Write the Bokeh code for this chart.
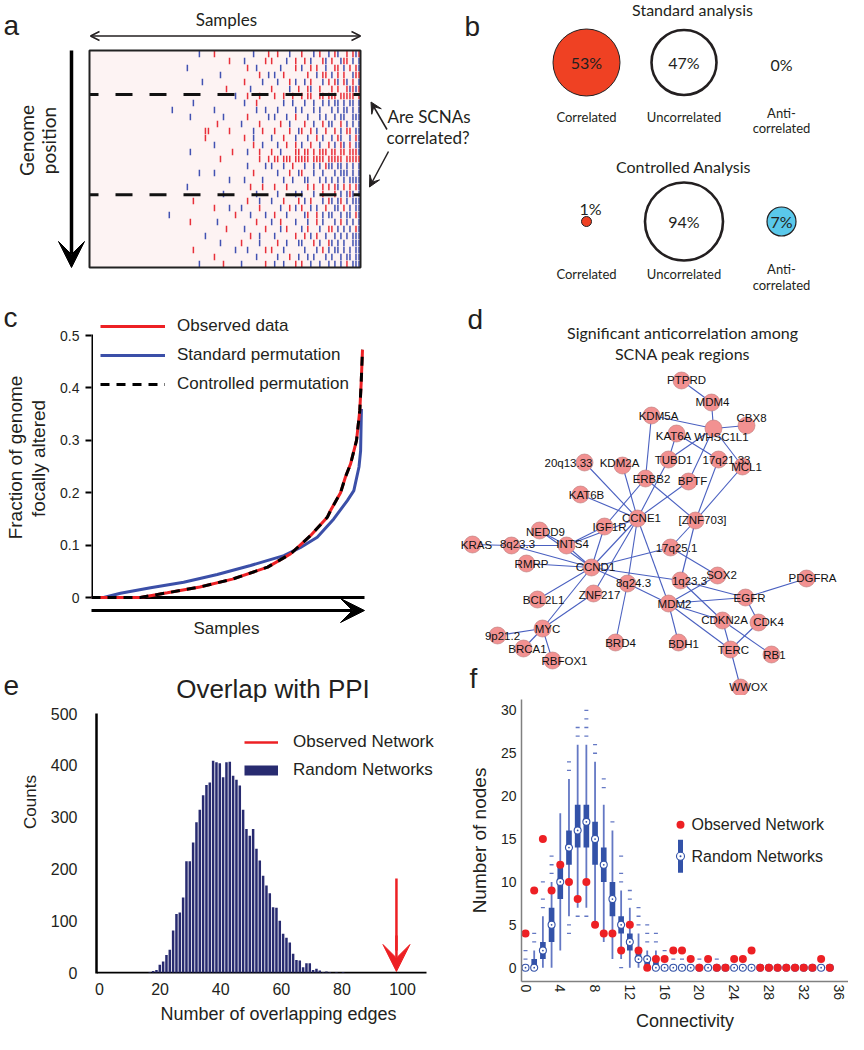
import math
import numpy as np
from bokeh.plotting import figure
from bokeh.layouts import row, column
from bokeh.models import (Range1d, LinearAxis, FixedTicker, Label, Arrow, VeeHead,
                          OpenHead, Legend, LegendItem, CustomJSTickFormatter)
from bokeh.core.properties import value
from bokeh.embed import file_html
from bokeh.resources import INLINE

HELV = "Liberation Sans"
MYR = "Lato"
INK = "#231f20"
RED = "#ed2024"
BLUE = "#3b4fa8"
NAVY = "#282b70"
BOXC = "#3352a8"
WHISK = "#6478c4"

# ---------------- data ----------------
# (a) SCNA heatmap: '.' none, 'r' amplification, 'b' deletion  (rows = genome position, cols = samples)
HEAT_ROWS = [
    ".......... .......... .......... ......b... .r........ ....b....r ..r...b... r...b.r..b .rb..r.rbr",
    ".......... .......... .......... .......... ......r... .b......r. r....b..r. .r.b...rb. r..brr.b.b",
    ".......... .......... .......... ..b....... .......... ..r..b.... ...b....r. b..r.r..b. .rr.b.r.rb",
    ".......... .......... .......... .......... ...b...... ......r..b .b..r..... ..r..b.rr. b.r.r..brr",
    ".......... .......... .......... .......b.. .......... .r.....b.. ..b...r.b. .b.r...b.r .rb.rb.r.b",
    ".......... .......... .......... .......... .....r.... ...b...... r.....b..r ..rb..r... r.r..rbrbr",
    ".......... .......... .......... .......... ........b. ..r...r... .r..r..r.. r.rr..rr.r rr.rrrrr.r",
    ".......... .......... .......... ....b..... .......... .b...r.... ....b..b.. .b..b..b.b .bb.b.bb.b",
    ".......... .......... .......b.. .......... .b........ .....b..b. ..b.....b. b...b.b... b.b.bb.b.b",
    ".......... .......... .......... ...b...... ....b..... ..r......b .b...b..r. ..b...b.b. .b.bb..bbb",
    ".......... .......... .......... .......... ..r....... b.....r... ...r..b... .r..b..r.b b..r.b.b.b",
    ".......... .......... .......... ........rr ......r... ....b..r.. .r....r..b r..r.b..r. .r.b.rr.bb",
    ".......... .......... .......... ........r. .......... .r..b..... b...r...b. ..b..r.b.. b.rb..b.rb",
    ".......... .......... .......... .......... .b........ ....r..b.. ..b..r..r. b..r..b..r .b.rb.r.bb",
    ".......... .......... .......... ...b...... .......r.. ..b...r... r..b....rr .rr.r.rrr. rr.rr.rrrb",
    ".......... .......... .......... .......... ...r...... ......r..r .rr.rrr.rr rrr.rrrr.r rrrr.rrrrr",
    ".......... .......... .......... .......... .......... ..b.....b. b...b..r.. .b..b.b.rb b.bb.b.b.b",
    ".......... .......... .......... ......b... .b........ ....r..... ..b...r..b r...b..b.. .b.bbb.b.b",
    ".......... .......... .......... .......... ......b... .b.....b.. ....b..b.. .bb...b.b. b.b.b.bbbb",
    ".......... .......... .......... ..b....... .......... ...r...r.. .r...r.... ..r.r..r.r .rb.r.r.rb",
    ".......... .......... .......... .......... ....b..... .....b.... ..b.....b. b...b..r.. .r.b.brb.b",
    ".......... .......... .......... ....r..... .......... ..r...b... b...r....r .b.r...b.r b.br.b.bbb",
    ".......... .......... .......... .......... .r....b... b.....r... ...b..r.b. r..b.b..r. .bb.r.b.bb",
    ".......... .......... ......b... .......... ........r. ...b....b. .r...b.... .br..r.b.b b..b.bb.rb",
    ".......... .......... .......... ...r...... ..b....... .....r.... b..r....b. ..b..r.b.. .b.r.b.b.b",
    ".......... .......... .......... .......... .....r.... .b......r. ...b.r.... b.r...b..r r.b.b.b.rb",
    ".......... .......... .......... ........b. .......... ...r..b... .b......r. .r.b.r..b. .b.b.b.bbb",
    ".......... .......... .......... .......... ...b...... r.....b... ..r..b...b b...r.b..r b.b.b..bbb",
    ".......... .......... .......... ....r..... ........b. ..b.....r. r...b..... .b...b.r.b .bb.b.b.bb",
    ".......... .......... .......... .......... .r........ .....b.... ..b...r..b ..b.b...b. b..b.bb.bb",
    ".......... .......... .......... ......b... ....r..... b.......r. .b..b...r. r..b..b..b .b.b.r.bbb",
]

# (b) correlation classes
CATEGORIES = ["Correlated", "Uncorrelated", "Anti-correlated"]
STANDARD_PCT = [53, 47, 0]
CONTROLLED_PCT = [1, 94, 7]

# (c) fraction of genome focally altered, samples sorted (x = fraction of samples)
OBS_X = [0.0, 0.18, 0.28, 0.40, 0.52, 0.65, 0.734, 0.808, 0.87, 0.882, 0.919, 0.937, 0.956, 0.978, 0.99, 0.995, 1.0]
OBS_Y = [0.0, 0.0, 0.009, 0.02, 0.035, 0.058, 0.083, 0.118, 0.153, 0.166, 0.20, 0.23, 0.255, 0.30, 0.357, 0.408, 0.473]
CTRL_X = [0.0, 0.18, 0.28, 0.40, 0.52, 0.65, 0.734, 0.808, 0.87, 0.882, 0.919, 0.937, 0.956, 0.978, 0.99, 0.995, 1.0]
CTRL_Y = [0.0, 0.0, 0.009, 0.02, 0.035, 0.058, 0.083, 0.118, 0.153, 0.166, 0.20, 0.23, 0.255, 0.30, 0.357, 0.408, 0.473]
STD_X = [0.0, 0.045, 0.107, 0.218, 0.34, 0.464, 0.587, 0.71, 0.77, 0.833, 0.894, 0.944, 0.968, 0.987, 0.993, 0.996]
STD_Y = [0.0, 0.0, 0.008, 0.0185, 0.029, 0.044, 0.061, 0.08, 0.095, 0.115, 0.15, 0.185, 0.204, 0.249, 0.28, 0.36]
C_TICKS = [0, 0.1, 0.2, 0.3, 0.4, 0.5]

# (d) anticorrelation network (node layout positions)
NODE_NAMES = ["PTPRD", "MDM4", "KDM5A", "CBX8", "WHSC1L1", "KAT6A", "TUBD1", "17q21.33", "MCL1",
              "20q13.33", "KDM2A", "ERBB2", "BPTF", "KAT6B", "CCNE1", "[ZNF703]", "IGF1R", "NEDD9",
              "KRAS", "8q23.3", "INTS4", "17q25.1", "RMRP", "CCND1", "SOX2", "PDGFRA", "1q23.3",
              "8q24.3", "BCL2L1", "ZNF217", "EGFR", "MDM2", "CDKN2A", "CDK4", "MYC", "9p21.2",
              "BRCA1", "RBFOX1", "BRD4", "BDH1", "TERC", "RB1", "WWOX"]
NODE_X = [681, 711, 651, 746, 713, 676, 668, 718, 742, 584, 622, 645, 688, 580, 637, 695, 604, 539,
          472, 511, 566, 670, 526, 591, 717, 806, 680, 627, 537, 593, 745, 668, 722, 758, 542, 497,
          523, 552, 615, 678, 730, 771, 740]
NODE_Y = [380, 402, 415, 425, 428, 433, 459, 459, 466, 462, 465, 478, 481, 494, 518, 520, 526, 530,
          544, 545, 545, 547, 563, 567, 575, 578, 580, 583, 599, 593, 597, 603, 620, 622, 628, 635,
          648, 660, 642, 642, 649, 654, 687]
EDGES = [("PTPRD", "MDM4"), ("MDM4", "WHSC1L1"), ("KDM5A", "WHSC1L1"), ("WHSC1L1", "CBX8"),
         ("WHSC1L1", "MCL1"), ("WHSC1L1", "TUBD1"), ("WHSC1L1", "BPTF"), ("KAT6A", "17q21.33"),
         ("KAT6A", "TUBD1"), ("KDM5A", "ERBB2"), ("TUBD1", "CCNE1"), ("ERBB2", "IGF1R"),
         ("ERBB2", "[ZNF703]"), ("BPTF", "CCNE1"), ("17q21.33", "[ZNF703]"), ("MCL1", "[ZNF703]"),
         ("[ZNF703]", "17q25.1"), ("[ZNF703]", "1q23.3"), ("20q13.33", "CCNE1"), ("KDM2A", "CCNE1"),
         ("KAT6B", "CCNE1"), ("CCNE1", "CCND1"), ("CCNE1", "INTS4"), ("CCNE1", "8q24.3"),
         ("CCNE1", "ZNF217"), ("CCNE1", "MDM2"), ("IGF1R", "INTS4"), ("IGF1R", "CCND1"),
         ("NEDD9", "INTS4"), ("NEDD9", "CCND1"), ("KRAS", "8q23.3"), ("8q23.3", "INTS4"),
         ("8q23.3", "CCND1"), ("INTS4", "CCND1"), ("RMRP", "CCND1"), ("CCND1", "17q25.1"),
         ("CCND1", "1q23.3"), ("CCND1", "8q24.3"), ("CCND1", "BCL2L1"), ("CCND1", "MYC"),
         ("ZNF217", "MYC"), ("8q24.3", "MDM2"), ("8q24.3", "BRD4"), ("MYC", "9p21.2"),
         ("MYC", "BRCA1"), ("MYC", "RBFOX1"), ("17q25.1", "SOX2"), ("1q23.3", "EGFR"),
         ("SOX2", "MDM2"), ("1q23.3", "CDKN2A"), ("MDM2", "EGFR"), ("MDM2", "CDKN2A"),
         ("MDM2", "TERC"), ("MDM2", "BDH1"), ("EGFR", "PDGFRA"), ("EGFR", "CDK4"),
         ("CDKN2A", "TERC"), ("CDKN2A", "RB1"), ("CDK4", "TERC"), ("TERC", "WWOX")]

# (e) histogram of PPI overlap for random networks
HIST_COUNTS = [1, 3, 5, 15, 21, 34, 44, 81, 113, 116, 145, 215, 215, 251, 290, 314, 342, 362, 367,
               409, 406, 404, 377, 406, 407, 380, 372, 361, 314, 277, 264, 277, 239, 216, 187, 168,
               153, 126, 125, 100, 75, 67, 58, 36, 24, 23, 10, 18, 18, 5, 7, 4, 1, 2, 1, 0, 1, 0, 1]
BIN_START = 16.6
BIN_WIDTH = 1.1
OBSERVED_OVERLAP = 98
E_XTICKS = [0, 20, 40, 60, 80, 100]
E_YTICKS = [0, 100, 200, 300, 400, 500]

# (f) degree distribution
CONNECTIVITY = list(range(36))
OBS_NODES = [4, 9, 15, 9, 12, 10, 8, 10, 5, 4, 4, 2, 5, 2, 0, 1, 1, 2, 2, 1, 0, 1, 0, 0, 1, 1, 2, 0,
             0, 0, 0, 0, 0, 0, 1, 0]
RAND_LO = [0, 0, 0, 0, 2, 6, 7, 7, 5, 3, 1, 1, 0, 0, 0, 0, 0, 0, 0, 0, 0, 0, 0, 0, 0, 0, 0, 0,
           0, 0, 0, 0, 0, 0, 0, 0]
RAND_Q1 = [0, 0, 1, 3, 8, 12, 14, 14, 12, 10, 6, 4, 2, 1, 0, 0, 0, 0, 0, 0, 0, 0, 0, 0, 0, 0, 0, 0,
           0, 0, 0, 0, 0, 0, 0, 0]
RAND_MED = [0, 0, 2, 5, 10, 14, 16, 17, 15, 12, 8, 5, 3, 1, 1, 0, 0, 0, 0, 0, 0, 0, 0, 0, 0, 0, 0, 0,
            0, 0, 0, 0, 0, 0, 0, 0]
RAND_Q3 = [0, 1, 3, 7, 12, 16, 19, 19, 17, 14, 10, 6, 4, 2, 1, 1, 0, 0, 0, 0, 0, 0, 0, 0, 0, 0, 0, 0,
           0, 0, 0, 0, 0, 0, 0, 0]
RAND_HI = [0, 2, 6, 10, 18, 22, 26, 26, 24, 19, 16, 9, 7, 4, 2, 2, 0, 0, 0, 0, 0, 0, 0, 0, 0, 0, 0, 0,
           0, 0, 0, 0, 0, 0, 0, 0]
RAND_OUT = [[1, 2], [3, 4], [7, 8, 10], [11, 12, 13], [], [4, 5, 23, 24], [6, 27, 28],
            [6, 27, 28, 29, 30], [25, 26], [21, 22], [17], [0, 10, 11, 13], [8, 9], [5, 6, 7],
            [3, 4, 5], [3, 4], [1, 2], [1, 2], [1], [1], [1], [1], [1], [], [], [], [], [], [], [],
            [], [], [], [], [], []]
F_XTICKS = [0, 4, 8, 12, 16, 20, 24, 28, 32, 36]
F_YTICKS = [0, 5, 10, 15, 20, 25, 30]

# ---------------- styles ----------------
BUBBLE_DIAM = [[67, 65, 0], [10, 78, 29]]
BUBBLE_FILL = ["#ef4123", "#ffffff", "#5ac8ea"]
BUBBLE_LW = [1.0, 2.6, 1.2]
PCT_DX = [[0, 0, 0], [4, 0, 0]]
PCT_DY = [[0, 0, 2], [-13, 0, 0]]
NAME_DY = [54, 52]
ANTI_DY = [(50, 65), (47, 63)]
LABEL_DX = [5, 1, 7, 5, 8, -3, 5, 8, 4, -16, -3, 6, 4, 6, 4, 7, 5, 6, 4, 6, 6, 6, 5, 4, 4, 6, 9, 6,
            6, 6, 4, 6, 2, 10, 5, 5, 4, 12, 5, 5, 3, 3, 8]
LABEL_DY = [-1, -1, 0, -8, 8, 2, 0, 0, 0, 0, -3, 0, -1, 0, -1, -1, 0, 1, 0, -2, -2, 0, 0, -1, -1, -1,
            0, -1, 0, 1, 0, 0, -1, -1, 0, 0, 0, 0, 0, 1, 0, 0, -1]
LETTER = 28


def anchored(d0, p0, d1, p1, p_start, p_end):
    k = (d1 - d0) / (p1 - p0)
    return Range1d(start=d0 + (p_start - p0) * k, end=d0 + (p_end - p0) * k)


def base_fig(w, h, xr, yr, left=0, right=0, top=0, bottom=0):
    p = figure(width=w, height=h, x_range=xr, y_range=yr, output_backend="svg",
               toolbar_location=None, x_axis_location=None, y_axis_location=None,
               min_border_left=left, min_border_right=right,
               min_border_top=top, min_border_bottom=bottom)
    p.grid.visible = False
    p.outline_line_color = None
    p.background_fill_color = "white"
    p.border_fill_color = "white"
    return p


def label(p, x, y, text, size, font=HELV, align="center", baseline="middle", angle=0.0, color=INK):
    p.add_layout(Label(x=x, y=y, text=text, text_font=font, text_font_size=f"{size}px",
                       text_align=align, text_baseline=baseline, angle=angle, text_color=color))


# ================= panels a + b (one canvas, page pixels) =================
grid = [r.replace(" ", "") for r in HEAT_ROWS]
n_rows = len(grid)
n_cols = max(len(r) for r in grid)

pab = base_fig(848, 300, Range1d(0, 848), Range1d(300, 0))
pab.extra_x_ranges = {"hx": anchored(0, 89, n_cols, 360, 0, 848),
                      "cat": anchored(0, 586, 2, 781, 0, 848)}
pab.extra_y_ranges = {"hy": anchored(0, 50, n_rows, 267, 300, 0),
                      "grp": anchored(0, 62, 1, 221, 300, 0)}

pab.quad(left=[0], right=[n_cols], top=[0], bottom=[n_rows], fill_color="#fdf3f3", line_color=None,
         x_range_name="hx", y_range_name="hy")
hx, hy, hc = [], [], []
for r, s in enumerate(grid):
    for c, ch in enumerate(s):
        if ch != ".":
            hx.append(c + 0.5)
            hy.append(r + 0.5)
            hc.append("#e8303a" if ch == "r" else "#4252b2")
pab.rect(x=hx, y=hy, width=0.5, height=0.9, fill_color=hc, line_color=None,
         x_range_name="hx", y_range_name="hy")
pab.segment(x0=[0, 0], x1=[n_cols, n_cols], y0=[6.3, 20.6], y1=[6.3, 20.6], line_color="#111111",
            line_width=3, line_dash="17 17", line_dash_offset=8, x_range_name="hx", y_range_name="hy")
pab.quad(left=[0], right=[n_cols], top=[0], bottom=[n_rows], fill_color=None, line_color="#222222",
         line_width=2, x_range_name="hx", y_range_name="hy")

pab.add_layout(Arrow(start=OpenHead(size=9, line_width=1.5, line_color=INK),
                     end=OpenHead(size=9, line_width=1.5, line_color=INK),
                     x_start=90, y_start=35.5, x_end=360, y_end=35.5, line_width=1.5, line_color=INK))
pab.add_layout(Arrow(end=VeeHead(size=26, fill_color="black", line_color="black"),
                     x_start=71, y_start=50, x_end=71, y_end=267, line_width=3.5, line_color="black"))
pab.add_layout(Arrow(end=VeeHead(size=11, fill_color=INK, line_color=INK),
                     x_start=386.5, y_start=129, x_end=370.5, y_end=101.5, line_width=1.5, line_color=INK))
pab.add_layout(Arrow(end=VeeHead(size=11, fill_color=INK, line_color=INK),
                     x_start=388, y_start=151, x_end=369, y_end=186.5, line_width=1.5, line_color=INK))
label(pab, 226, 19, "Samples", 17, font=MYR)
label(pab, 26, 140, "Genome", 19, font=MYR, angle=math.pi / 2)
label(pab, 48, 140, "position", 19, font=MYR, angle=math.pi / 2)
label(pab, 387, 116, "Are SCNAs", 17, font=MYR, align="left")
label(pab, 386, 137, "correlated?", 17, font=MYR, align="left")
label(pab, 3, 25, "a", LETTER, align="left")
label(pab, 464, 26, "b", LETTER, align="left")

label(pab, 692, 9, "Standard analysis", 16, font=MYR)
label(pab, 683, 166, "Controlled Analysis", 16, font=MYR)
groups = [STANDARD_PCT, CONTROLLED_PCT]
line1 = [c.split("-")[0] + "-" if "-" in c else c for c in CATEGORIES]
line2 = [c.split("-", 1)[1] if "-" in c else "" for c in CATEGORIES]
for gi, pcts in enumerate(groups):
    keep = [i for i in range(len(pcts)) if BUBBLE_DIAM[gi][i] > 0]
    pab.scatter(x=keep, y=[gi] * len(keep), size=[BUBBLE_DIAM[gi][i] for i in keep],
                fill_color=[BUBBLE_FILL[i] for i in keep], line_color=INK,
                line_width=[BUBBLE_LW[i] for i in keep], x_range_name="cat", y_range_name="grp")
    pab.text(x=list(range(len(pcts))), y=[gi] * len(pcts), text=[f"{v}%" for v in pcts],
             x_offset=PCT_DX[gi], y_offset=PCT_DY[gi], text_font=value(MYR), text_font_size="16px",
             text_align="center", text_baseline="middle", text_color=INK,
             x_range_name="cat", y_range_name="grp")
    offs1 = [ANTI_DY[gi][0] if line2[i] else NAME_DY[gi] for i in range(len(CATEGORIES))]
    pab.text(x=list(range(len(CATEGORIES))), y=[gi] * len(CATEGORIES), text=line1, y_offset=offs1,
             text_font=value(MYR), text_font_size="13px", text_align="center",
             text_baseline="middle", text_color=INK, x_range_name="cat", y_range_name="grp")
    two = [i for i in range(len(CATEGORIES)) if line2[i]]
    pab.text(x=two, y=[gi] * len(two), text=[line2[i] for i in two], y_offset=ANTI_DY[gi][1],
             text_font=value(MYR), text_font_size="13px", text_align="center",
             text_baseline="middle", text_color=INK, x_range_name="cat", y_range_name="grp")

# ================= panel c =================
pc_lab = base_fig(50, 340, Range1d(0, 50), Range1d(640, 300))
label(pc_lab, 3, 317, "c", LETTER, align="left")
label(pc_lab, 15, 457, "Fraction of genome", 19, angle=math.pi / 2)
label(pc_lab, 38, 458, "focally altered", 19, angle=math.pi / 2)

pc = base_fig(410, 340, anchored(0, 91, 1, 362, 91, 460), anchored(0, 597, 0.5, 335, 640, 300), left=41)
cpx = lambda px: (px - 91) / 271.0
cpy = lambda py: (597 - py) / 524.0
yax = LinearAxis(ticker=FixedTicker(ticks=C_TICKS),
                 formatter=CustomJSTickFormatter(code="return tick == 0 ? '0' : tick.toFixed(1);"),
                 axis_line_color=None, major_tick_line_color="black", major_tick_line_width=2,
                 major_tick_out=6, major_tick_in=0, minor_tick_line_color=None,
                 major_label_text_font=HELV, major_label_text_font_size="14px",
                 major_label_text_color=INK, major_label_standoff=6)
pc.add_layout(yax, "left")
pc.segment(x0=[0, 0], y0=[0, 0], x1=[0, cpx(364)], y1=[cpy(334), 0], line_color="black", line_width=3)
r_std = pc.line(STD_X, STD_Y, line_color=BLUE, line_width=3)
r_obs = pc.line(OBS_X, OBS_Y, line_color=RED, line_width=3)
r_ctl = pc.line(CTRL_X, CTRL_Y, line_color="black", line_width=3, line_dash="9 7")
pc.add_layout(Arrow(end=VeeHead(size=24, fill_color="black", line_color="black"),
                    x_start=cpx(88), y_start=cpy(610), x_end=cpx(364), y_end=cpy(610),
                    line_width=3, line_color="black"))
leg_c = Legend(items=[LegendItem(label="Observed data", renderers=[r_obs]),
                      LegendItem(label="Standard permutation", renderers=[r_std]),
                      LegendItem(label="Controlled permutation", renderers=[r_ctl])],
               location=(9, 246), glyph_width=65, glyph_height=20, label_height=20, spacing=9,
               padding=0, margin=0, border_line_color=None, background_fill_alpha=0,
               label_standoff=12, label_text_font=HELV, label_text_font_size="17px",
               label_text_color=INK)
pc.add_layout(leg_c)
label(pc, cpx(226), cpy(628), "Samples", 17)

# ================= panel d (page pixels) =================
pdn = base_fig(388, 395, Range1d(460, 848), Range1d(695, 300))
idx = {n: i for i, n in enumerate(NODE_NAMES)}
pdn.segment(x0=[NODE_X[idx[a]] for a, b in EDGES], y0=[NODE_Y[idx[a]] for a, b in EDGES],
            x1=[NODE_X[idx[b]] for a, b in EDGES], y1=[NODE_Y[idx[b]] for a, b in EDGES],
            line_color="#4a60c0", line_width=1.1)
pdn.scatter(x=NODE_X, y=NODE_Y, size=17, fill_color="#f29191", line_color="#bb7a7a", line_width=0.6)
pdn.text(x=NODE_X, y=NODE_Y, text=NODE_NAMES, x_offset=LABEL_DX, y_offset=LABEL_DY,
         text_font=value(HELV), text_font_size="11.5px", text_align="center", text_baseline="middle",
         text_color="#111111")
label(pdn, 682, 332, "Significant anticorrelation among", 16, font=MYR)
label(pdn, 682, 353, "SCNA peak regions", 16, font=MYR)
label(pdn, 467, 319, "d", LETTER, align="left")
label(pdn, 469, 678, "f", LETTER, align="left")

# ================= panel e =================
pe_head = base_fig(460, 62, Range1d(0, 460), Range1d(702, 640))
label(pe_head, 272.5, 688, "Overlap with PPI", 26)
label(pe_head, 3, 685, "e", LETTER, align="left")
pe_left = base_fig(45, 332, Range1d(0, 45), Range1d(1034, 702))
label(pe_left, 30, 815, "Counts", 17, angle=math.pi / 2)

pe = base_fig(415, 332, anchored(0, 99, 100, 402, 96, 460), anchored(0, 972, 500, 713, 973, 713),
              left=51, right=0, top=11, bottom=61)
epx = lambda px: (px - 99) / 3.03
epy = lambda py: (972 - py) / 0.518
ex = LinearAxis(ticker=FixedTicker(ticks=E_XTICKS), axis_line_color=None,
                major_tick_line_color=None, minor_tick_line_color=None, major_tick_out=0,
                major_label_text_font=HELV, major_label_text_font_size="16px",
                major_label_text_color=INK, major_label_standoff=9,
                axis_label="Number of overlapping edges", axis_label_text_font=HELV,
                axis_label_text_font_size="18px", axis_label_text_font_style="normal",
                axis_label_text_color=INK, axis_label_standoff=6)
ey = LinearAxis(ticker=FixedTicker(ticks=E_YTICKS), axis_line_color="black", axis_line_width=2.5,
                major_tick_line_color=None, minor_tick_line_color=None, major_tick_out=0,
                major_label_text_font=HELV, major_label_text_font_size="16px",
                major_label_text_color=INK, major_label_standoff=19)
pe.add_layout(ex, "below")
pe.add_layout(ey, "left")
pe.segment(x0=[epx(96)], y0=[epy(972.5)], x1=[epx(426)], y1=[epy(972.5)], line_color="black",
           line_width=2.5)
centers = [BIN_START + BIN_WIDTH * i for i in range(len(HIST_COUNTS))]
bars = pe.vbar(x=centers, top=HIST_COUNTS, bottom=0, width=BIN_WIDTH * 0.75, fill_color=NAVY,
               line_color=None)
shaft = pe.segment(x0=[OBSERVED_OVERLAP], y0=[epy(878)], x1=[OBSERVED_OVERLAP], y1=[epy(950)],
                   line_color=RED, line_width=2.5)
pe.add_layout(Arrow(end=VeeHead(size=27, fill_color=RED, line_color=RED),
                    x_start=OBSERVED_OVERLAP, y_start=epy(935), x_end=OBSERVED_OVERLAP, y_end=epy(971),
                    line_color=RED, line_width=2.5))
rand_key = pe.line(x=[np.nan, np.nan], y=[np.nan, np.nan], line_color=NAVY, line_width=10)
leg_e = Legend(items=[LegendItem(label="Observed Network", renderers=[shaft]),
                      LegendItem(label="Random Networks", renderers=[rand_key])],
               location=(148, 193), glyph_width=34, glyph_height=20, label_height=20, spacing=8,
               padding=0, margin=0, border_line_color=None, background_fill_alpha=0,
               label_standoff=15, label_text_font=HELV, label_text_font_size="17px",
               label_text_color=INK)
pe.add_layout(leg_e)

# ================= panel f =================
pf = base_fig(388, 339, anchored(0, 525, 36, 838, 521, 848), anchored(0, 971, 30, 710, 985, 699),
              left=61, right=0, top=4, bottom=49)
fpx = lambda px: (px - 525) / (313 / 36.0)
fpy = lambda py: (971 - py) / (261 / 30.0)
fx = LinearAxis(ticker=FixedTicker(ticks=F_XTICKS), axis_line_color="#808080", axis_line_width=1.5,
                major_tick_line_color=None, minor_tick_line_color=None, major_tick_out=0,
                major_label_orientation="vertical", major_label_text_font=HELV,
                major_label_text_font_size="14px", major_label_text_color=INK, major_label_standoff=3,
                axis_label="Connectivity", axis_label_text_font=HELV,
                axis_label_text_font_size="18px", axis_label_text_font_style="normal",
                axis_label_text_color=INK, axis_label_standoff=8)
fy = LinearAxis(ticker=FixedTicker(ticks=F_YTICKS), axis_line_color="#808080", axis_line_width=1.5,
                major_tick_line_color=None, minor_tick_line_color=None, major_tick_out=0,
                major_label_text_font=HELV, major_label_text_font_size="14px",
                major_label_text_color=INK, major_label_standoff=5,
                axis_label="Number of nodes", axis_label_text_font=HELV,
                axis_label_text_font_size="19px", axis_label_text_font_style="normal",
                axis_label_text_color=INK, axis_label_standoff=8)
pf.add_layout(fx, "below")
pf.add_layout(fy, "left")
wk = [k for k in CONNECTIVITY if RAND_HI[k] > RAND_LO[k]]
pf.segment(x0=wk, x1=wk, y0=[RAND_LO[k] for k in wk], y1=[RAND_HI[k] for k in wk],
           line_color=WHISK, line_width=1.8)
bk = [k for k in CONNECTIVITY if RAND_Q3[k] > RAND_Q1[k]]
pf.vbar(x=bk, bottom=[RAND_Q1[k] for k in bk], top=[RAND_Q3[k] for k in bk], width=0.65,
        fill_color=BOXC, line_color=None)
ox = [k for k in CONNECTIVITY for v in RAND_OUT[k]]
oy = [v for k in CONNECTIVITY for v in RAND_OUT[k]]
pf.scatter(x=ox, y=oy, marker="dash", size=4, line_color=WHISK, line_width=1.3)
pf.scatter(x=CONNECTIVITY, y=RAND_MED, marker="circle_dot", size=7, fill_color="white",
           line_color=BOXC, line_width=1.1)
pf.scatter(x=CONNECTIVITY, y=OBS_NODES, size=8, fill_color=RED, line_color=None)
# legend keys
pf.scatter(x=[fpx(680)], y=[fpy(826)], size=8, fill_color=RED, line_color=None)
pf.rect(x=[fpx(680)], y=[fpy(858)], width=5, height=33, width_units="screen", height_units="screen",
        fill_color=BOXC, line_color=None)
pf.scatter(x=[fpx(680)], y=[fpy(858)], marker="circle_dot", size=8, fill_color="white",
           line_color=BOXC, line_width=1.1)
label(pf, fpx(691), fpy(826), "Observed Network", 16, align="left")
label(pf, fpx(691), fpy(858), "Random Networks", 16, align="left")

layout = column(pab,
                row(column(row(pc_lab, pc), pe_head, row(pe_left, pe)),
                    column(row(pdn), row(pf))))
open("out.html", "w").write(file_html(layout, INLINE))
